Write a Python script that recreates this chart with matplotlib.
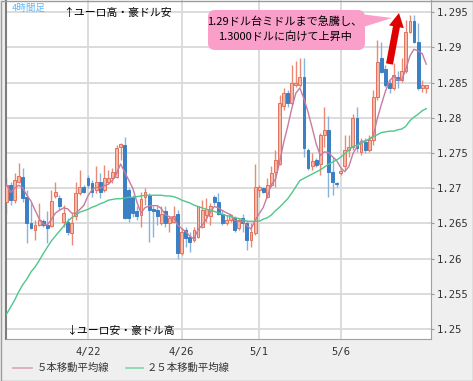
import numpy as np
import pandas as pd
import matplotlib
matplotlib.use("Agg")
import matplotlib.pyplot as plt
from matplotlib.patches import Polygon, FancyBboxPatch, Rectangle
from matplotlib.lines import Line2D
from matplotlib.transforms import Affine2D

# EUR/AUD 4h candles
opens = [1.2681, 1.2705, 1.2683, 1.2709, 1.2716, 1.2688, 1.2651, 1.2641, 1.2648, 1.2653,
         1.2648, 1.2646, 1.2689, 1.2686, 1.2652, 1.2652, 1.2637, 1.2660, 1.2693, 1.2702,
         1.2714, 1.2707, 1.2697, 1.2709, 1.2697, 1.2709, 1.2714, 1.2716, 1.2759, 1.2761,
         1.2697, 1.2688, 1.2667, 1.2662, 1.2688, 1.2690, 1.2671, 1.2669, 1.2650, 1.2667,
         1.2650, 1.2652, 1.2664, 1.2608, 1.2641, 1.2631, 1.2626, 1.2631, 1.2645, 1.2662,
         1.2661, 1.2688, 1.2681, 1.2664, 1.2650, 1.2655, 1.2657, 1.2643, 1.2657, 1.2650,
         1.2626, 1.2636, 1.2697, 1.2700, 1.2688, 1.2705, 1.2723, 1.2735, 1.2817, 1.2835,
         1.2821, 1.2847, 1.2847, 1.2858, 1.2754, 1.2731, 1.2740, 1.2735, 1.2776, 1.2783,
         1.2723, 1.2708, 1.2721, 1.2731, 1.2754, 1.2759, 1.2800, 1.2751, 1.2766, 1.2754,
         1.2768, 1.2830, 1.2885, 1.2870, 1.2849, 1.2842, 1.2858, 1.2854, 1.2866, 1.2922,
         1.2937, 1.2908, 1.2842, 1.2842]
highs = [1.2716, 1.2709, 1.2722, 1.2736, 1.2729, 1.2697, 1.2679, 1.2655, 1.2679, 1.2656,
         1.2667, 1.2697, 1.2709, 1.2690, 1.2676, 1.2658, 1.2665, 1.2709, 1.2726, 1.2705,
         1.2719, 1.2712, 1.2731, 1.2721, 1.2733, 1.2726, 1.2728, 1.2761, 1.2764, 1.2773,
         1.2700, 1.2690, 1.2674, 1.2695, 1.2700, 1.2693, 1.2674, 1.2674, 1.2674, 1.2674,
         1.2660, 1.2674, 1.2669, 1.2643, 1.2645, 1.2638, 1.2645, 1.2675, 1.2683, 1.2686,
         1.2679, 1.2690, 1.2693, 1.2669, 1.2662, 1.2664, 1.2660, 1.2658, 1.2664, 1.2655,
         1.2650, 1.2735, 1.2705, 1.2702, 1.2714, 1.2731, 1.2754, 1.2832, 1.2842, 1.2840,
         1.2875, 1.2880, 1.2885, 1.2885, 1.2757, 1.2750, 1.2743, 1.2778, 1.2816, 1.2802,
         1.2745, 1.2709, 1.2728, 1.2776, 1.2776, 1.2806, 1.2815, 1.2771, 1.2771, 1.2776,
         1.2840, 1.2911, 1.2908, 1.2875, 1.2854, 1.2878, 1.2866, 1.2885, 1.2939, 1.2946,
         1.2946, 1.2934, 1.2854, 1.2847]
lows = [1.2664, 1.2676, 1.2679, 1.2707, 1.2681, 1.2622, 1.2642, 1.2626, 1.2646, 1.2645,
        1.2622, 1.2645, 1.2686, 1.2669, 1.2645, 1.2634, 1.2619, 1.2655, 1.2690, 1.2693,
        1.2700, 1.2688, 1.2693, 1.2686, 1.2695, 1.2707, 1.2707, 1.2714, 1.2740, 1.2656,
        1.2652, 1.2659, 1.2655, 1.2645, 1.2676, 1.2624, 1.2631, 1.2648, 1.2648, 1.2645,
        1.2638, 1.2650, 1.2599, 1.2605, 1.2617, 1.2610, 1.2624, 1.2629, 1.2643, 1.2652,
        1.2648, 1.2676, 1.2662, 1.2648, 1.2648, 1.2652, 1.2638, 1.2641, 1.2638, 1.2612,
        1.2617, 1.2634, 1.2688, 1.2693, 1.2686, 1.2702, 1.2702, 1.2733, 1.2811, 1.2816,
        1.2818, 1.2844, 1.2844, 1.2745, 1.2726, 1.2726, 1.2730, 1.2719, 1.2759, 1.2688,
        1.2690, 1.2702, 1.2719, 1.2726, 1.2745, 1.2754, 1.2751, 1.2747, 1.2750, 1.2751,
        1.2761, 1.2825, 1.2863, 1.2844, 1.2835, 1.2840, 1.2842, 1.2851, 1.2863, 1.2920,
        1.2906, 1.2840, 1.2837, 1.2835]
closes = [1.2705, 1.2683, 1.2712, 1.2717, 1.2686, 1.2651, 1.2643, 1.2648, 1.2655, 1.2648,
          1.2644, 1.2682, 1.2694, 1.2675, 1.2665, 1.2638, 1.2651, 1.2693, 1.2702, 1.2695,
          1.2705, 1.2695, 1.2709, 1.2695, 1.2714, 1.2715, 1.2723, 1.2757, 1.2763, 1.2657,
          1.2657, 1.2665, 1.2660, 1.2685, 1.2695, 1.2669, 1.2667, 1.2660, 1.2664, 1.2650,
          1.2657, 1.2660, 1.2608, 1.2638, 1.2629, 1.2624, 1.2641, 1.2674, 1.2669, 1.2671,
          1.2675, 1.2681, 1.2664, 1.2650, 1.2655, 1.2662, 1.2641, 1.2655, 1.2650, 1.2626,
          1.2638, 1.2702, 1.2702, 1.2695, 1.2705, 1.2721, 1.2740, 1.2821, 1.2835, 1.2821,
          1.2849, 1.2849, 1.2858, 1.2757, 1.2728, 1.2738, 1.2733, 1.2776, 1.2783, 1.2723,
          1.2709, 1.2706, 1.2725, 1.2754, 1.2759, 1.2800, 1.2757, 1.2764, 1.2754, 1.2768,
          1.2830, 1.2879, 1.2865, 1.2847, 1.2842, 1.2861, 1.2854, 1.2866, 1.2922, 1.2937,
          1.2908, 1.2842, 1.2847, 1.2847]

# 25 period MA as drawn (starts before the visible window)
ma25 = [1.2521, 1.2531, 1.2541, 1.2553, 1.2563, 1.2571, 1.2581, 1.2588, 1.2597, 1.2607,
        1.2616, 1.2625, 1.2632, 1.2639, 1.2646, 1.2653, 1.2658, 1.2662, 1.2666, 1.2668,
        1.2670, 1.2673, 1.2675, 1.2678, 1.2680, 1.2683, 1.2684, 1.2685, 1.2685, 1.2686,
        1.2687, 1.2687, 1.2688, 1.2689, 1.2690, 1.2690, 1.2690, 1.2690, 1.2690, 1.2689,
        1.2689, 1.2688, 1.2686, 1.2683, 1.2681, 1.2679, 1.2676, 1.2674, 1.2672, 1.2670,
        1.2669, 1.2667, 1.2665, 1.2663, 1.2661, 1.2660, 1.2658, 1.2657, 1.2655, 1.2653,
        1.2653, 1.2653, 1.2653, 1.2656, 1.2658, 1.2662, 1.2668, 1.2673, 1.2679, 1.2685,
        1.2693, 1.2702, 1.2711, 1.2714, 1.2717, 1.2720, 1.2723, 1.2726, 1.2730, 1.2734,
        1.2737, 1.2740, 1.2744, 1.2749, 1.2754, 1.2759, 1.2761, 1.2763, 1.2767, 1.2770,
        1.2773, 1.2776, 1.2779, 1.2780, 1.2781, 1.2781, 1.2783, 1.2784, 1.2788, 1.2796,
        1.2801, 1.2805, 1.2810, 1.2813]

date_idx = [20, 43, 62, 82]
date_labels = ["4/22", "4/26", "5/1", "5/6"]
price_ticks = [1.25, 1.255, 1.26, 1.265, 1.27, 1.275, 1.28, 1.285, 1.29, 1.295]

JP = ["Noto Sans CJK JP", "DejaVu Sans"]
W, H = 473, 381

fig = plt.figure(figsize=(W / 100, H / 100), dpi=100, facecolor="#efefef")
# pixel coords measured from the top-left of the image
px = Affine2D().scale(1 / W, -1 / H).translate(0, 1) + fig.transFigure

ax = fig.add_axes([6 / W, 1 - 339 / H, 425 / W, 339 / H])
ax.set_facecolor("white")

o = np.array(opens)
h = np.array(highs)
l = np.array(lows)
c = np.array(closes)
idx = np.arange(len(c))
up = c >= o
dn = ~up

ax.vlines(idx[up], l[up], h[up], color="#ea8a74", lw=1, zorder=2)
ax.vlines(idx[dn], l[dn], h[dn], color="#86b4de", lw=1, zorder=2)
body = np.maximum(np.abs(c - o), 0.00008)
bot = np.minimum(o, c)
ax.bar(idx[up], body[up], bottom=bot[up], width=0.7, color="#f5b8a9",
       edgecolor="#e2725b", lw=0.7, zorder=3)
ax.bar(idx[dn], body[dn], bottom=bot[dn], width=0.7, color="#3a80c4",
       edgecolor="#3a80c4", lw=0.7, zorder=3)

ma5 = pd.Series(closes).rolling(5, min_periods=1).mean()
ax.plot(idx, ma5, color="#c67c9f", lw=1, zorder=4)
ax.plot(idx, ma25, color="#4fc78b", lw=1, zorder=4)

ax.set_xlim(-0.12, 104.17)
ax.set_ylim(1.24858, 1.29673)
ax.set_xticks(date_idx)
ax.set_xticklabels(date_labels, family="DejaVu Sans Mono", fontsize=7.6, color="#333333")
ax.set_yticks(price_ticks)
ax.set_yticklabels([f"{v:g}" for v in price_ticks], family="DejaVu Sans Mono",
                   fontsize=7.6, color="#333333")
ax.yaxis.tick_right()
ax.tick_params(axis="y", length=2, pad=2, color="#999999")
ax.tick_params(axis="x", length=0, pad=6)
ax.grid(color="#d9d9d9", lw=1.3)
ax.set_axisbelow(True)
ax.spines["top"].set_visible(False)
ax.spines["left"].set_color("#7d7d7d")
ax.spines["left"].set_linewidth(1.5)
ax.spines["right"].set_color("#a0a0a0")
ax.spines["bottom"].set_color("#a0a0a0")

# labels inside the plot
fig.text(12, 8, "4時間足", transform=px, family=JP, fontsize=6.8, color="#62b6f7",
         va="center", ha="left")
fig.text(63, 13, "↑ユーロ高・豪ドル安", transform=px, family=JP, fontsize=7.8,
         color="black", va="center", ha="left")
fig.text(66, 331, "↓ユーロ安・豪ドル高", transform=px, family=JP, fontsize=7.8,
         color="black", va="center", ha="left")

# callout
fig.patches.append(FancyBboxPatch((208, 10), 157, 40, boxstyle="round,pad=0,rounding_size=7",
                                  transform=px, fc="#f99fca", ec="none", zorder=5))
fig.patches.append(Polygon([(360, 14), (392, 18), (360, 28)], closed=True,
                           transform=px, fc="#f99fca", ec="none", zorder=5))
fig.text(285, 22, "1.29ドル台ミドルまで急騰し、", transform=px, family=JP, fontsize=8,
         ha="center", va="center", zorder=6)
fig.text(285, 37, "1.3000ドルに向けて上昇中", transform=px, family=JP, fontsize=8,
         ha="center", va="center", zorder=6)

# red arrow
base = np.array([389.5, 64.0])
tip = np.array([399.0, 13.0])
u = (tip - base) / np.hypot(*(tip - base))
nv = np.array([-u[1], u[0]])
neck = tip - u * 14
pts = [base + nv * 3.5, neck + nv * 3.5, neck + nv * 7.5, tip,
       neck - nv * 7.5, neck - nv * 3.5, base - nv * 3.5]
fig.patches.append(Polygon(pts, closed=True, transform=px, fc="#e00000", ec="none", zorder=6))

# legend
fig.lines.append(Line2D([13, 32], [368, 368], transform=px, color="#d9a3bb", lw=1.2))
fig.text(37, 368, "５本移動平均線", transform=px, family=JP, fontsize=7.5,
         va="center", ha="left", color="#333333")
fig.lines.append(Line2D([126, 143], [368, 368], transform=px, color="#7fd4a8", lw=1.2))
fig.text(147, 368, "２５本移動平均線", transform=px, family=JP, fontsize=7.5,
         va="center", ha="left", color="#333333")

# outer frame
fig.patches.append(Rectangle((0.5, 0.5), W - 1, H - 1, transform=px, fill=False,
                             ec="#9c9c9c", lw=1))

fig.savefig("out.png", dpi=100, facecolor=fig.get_facecolor())
